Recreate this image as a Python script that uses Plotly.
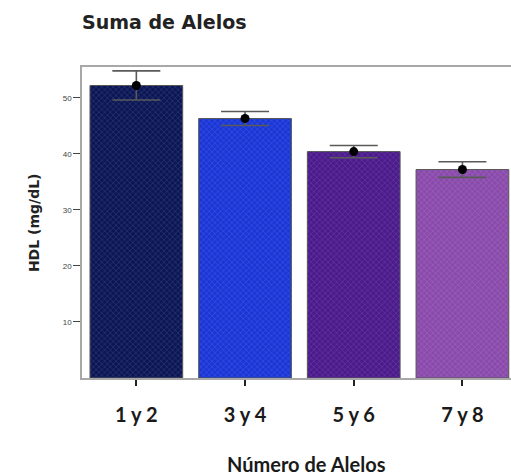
import plotly.graph_objects as go

categories = ["1 y 2", "3 y 4", "5 y 6", "7 y 8"]
hdl_means = [52.2, 46.3, 40.4, 37.2]
hdl_errors = [2.6, 1.25, 1.1, 1.4]
bar_colors = ["#0b1656", "#1a36d6", "#4b1a8c", "#8a4aac"]
y_ticks = [10, 20, 30, 40, 50]

fig = go.Figure()
fig.add_trace(go.Bar(
    x=categories, y=hdl_means,
    marker=dict(color=bar_colors,
                line=dict(color="#555555", width=1),
                pattern=dict(shape="x", size=4, solidity=0.2,
                             fgcolor="#000000", fgopacity=0.22)),
    showlegend=False, hoverinfo="skip",
))
fig.add_trace(go.Scatter(
    x=categories, y=hdl_means, mode="markers",
    marker=dict(color="black", size=9, symbol="circle"),
    error_y=dict(type="data", array=hdl_errors, color="#5a5a5a",
                 thickness=1.6, width=24),
    showlegend=False, hoverinfo="skip",
))

fig.update_layout(
    width=511, height=476,
    margin=dict(l=82, r=0, t=67, b=98),
    plot_bgcolor="white", paper_bgcolor="white",
    bargap=0.147,
    title=dict(text="<b>Suma de Alelos</b>", x=0, xref="paper", xanchor="left",
               y=1 - 22 / 476, yref="container", yanchor="middle",
               font=dict(family="DejaVu Sans", size=19, color="#222222")),
)
fig.update_xaxes(
    range=[-0.5, 3.447], showline=True, linecolor="#a8a8a8", linewidth=1.5,
    mirror=True, ticks="outside", ticklen=6, tickcolor="#222222", tickwidth=2,
    tickfont=dict(family="Lato, Open Sans", size=20, color="#1a1a1a", weight="bold"),
    ticklabelstandoff=12, showgrid=False,
)
fig.update_yaxes(
    range=[0, 55.5], tickvals=y_ticks, showline=True, linecolor="#a8a8a8",
    linewidth=1.5, ticks="outside", ticklen=7, tickcolor="#444444", tickwidth=1.2,
    tickfont=dict(family="Liberation Sans, Arial", size=8, color="#444444"),
    showgrid=False, zeroline=False,
)
fig.add_annotation(
    text="<b>HDL (mg/dL)</b>", textangle=-90, xref="paper", yref="paper",
    x=(34 - 82) / 429, y=0.498, showarrow=False, xanchor="center", yanchor="middle",
    font=dict(family="DejaVu Sans", size=14, color="#222222"),
)
fig.add_annotation(
    text="<b>Número de Alelos</b>", xref="paper", yref="paper",
    x=(306 - 82) / 429, y=(378 - 464) / 311, showarrow=False,
    xanchor="center", yanchor="middle",
    font=dict(family="Lato, Open Sans", size=20, color="#1a1a1a"),
)

fig.write_html("out.html")
